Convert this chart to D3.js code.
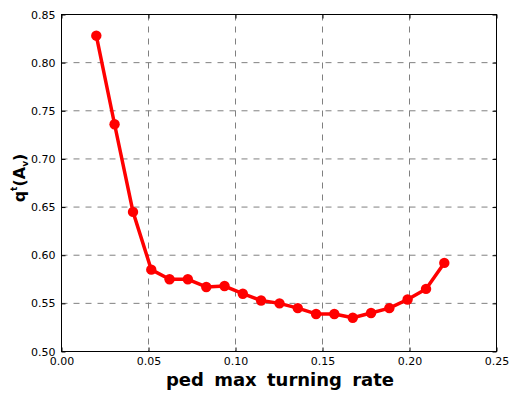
<!DOCTYPE html>
<html><head><meta charset="utf-8">
<script src="https://cdn.jsdelivr.net/npm/d3@7"></script>
<style>body{margin:0;background:#fff}svg{display:block}</style>
</head><body>
<svg id="c" width="512" height="395"></svg>
<script>
const xValues = [0.0200,0.0305,0.0411,0.0516,0.0621,0.0726,0.0832,0.0937,0.1042,0.1147,0.1253,0.1358,0.1463,0.1568,0.1674,0.1779,0.1884,0.1989,0.2095,0.2200];
const yValues = [0.828,0.736,0.645,0.585,0.575,0.575,0.567,0.568,0.560,0.553,0.550,0.545,0.539,0.539,0.535,0.540,0.545,0.554,0.565,0.592];
const xTicks = [0.00,0.05,0.10,0.15,0.20,0.25];
const yTicks = [0.50,0.55,0.60,0.65,0.70,0.75,0.80,0.85];
const xLabel = "ped max turning rate";

const svg = d3.select("#c");
const L = 61.5, R = 496.5, T = 14.5, B = 351.5;
const x = d3.scaleLinear().domain([0,0.25]).range([L,R]);
const y = d3.scaleLinear().domain([0.50,0.85]).range([B,T]);
const font = "DejaVu Sans, sans-serif";

// grid
const g = svg.append("g");
g.selectAll(".gx").data(xTicks.slice(1,-1)).enter().append("line")
  .attr("x1",d=>x(d)).attr("x2",d=>x(d)).attr("y1",T).attr("y2",B)
  .attr("stroke","#808080").attr("stroke-width",1).attr("stroke-dasharray","6,6");
g.selectAll(".gy").data(yTicks.slice(1,-1)).enter().append("line")
  .attr("y1",d=>y(d)).attr("y2",d=>y(d)).attr("x1",L).attr("x2",R)
  .attr("stroke","#808080").attr("stroke-width",1).attr("stroke-dasharray","6,6");

// axes (ticks inward)
const ax = d3.axisBottom(x).tickValues(xTicks).tickFormat(d3.format(".2f")).tickSizeInner(-4).tickSizeOuter(0).tickPadding(6);
const ay = d3.axisLeft(y).tickValues(yTicks).tickFormat(d3.format(".2f")).tickSizeInner(-4).tickSizeOuter(0).tickPadding(6);
const axT = d3.axisTop(x).tickValues(xTicks).tickFormat("").tickSizeInner(-4).tickSizeOuter(0);
const ayR = d3.axisRight(y).tickValues(yTicks).tickFormat("").tickSizeInner(-4).tickSizeOuter(0);
function style(sel){
  sel.select(".domain").remove();
  sel.selectAll("line").attr("stroke","#000");
  sel.selectAll("text").attr("font-family",font).attr("font-size","11px").attr("fill","#000");
}
svg.append("g").attr("transform",`translate(0,${B})`).call(ax).call(style);
svg.append("g").attr("transform",`translate(${L},0)`).call(ay).call(style);
svg.append("g").attr("transform",`translate(0,${T})`).call(axT).call(style);
svg.append("g").attr("transform",`translate(${R},0)`).call(ayR).call(style);

// line + markers
const data = xValues.map((v,i)=>[v,yValues[i]]);
svg.append("path").datum(data)
  .attr("d",d3.line().x(d=>x(d[0])).y(d=>y(d[1])))
  .attr("fill","none").attr("stroke","#ff0000").attr("stroke-width",3.5).attr("stroke-linejoin","round");
svg.selectAll(".pt").data(data).enter().append("circle")
  .attr("cx",d=>x(d[0])).attr("cy",d=>y(d[1])).attr("r",5.2).attr("fill","#ff0000");

// frame
svg.append("rect").attr("x",L).attr("y",T).attr("width",R-L).attr("height",B-T)
  .attr("fill","none").attr("stroke","#000").attr("stroke-width",1);

// labels
svg.append("text").attr("x",280).attr("y",386).attr("text-anchor","middle")
  .attr("font-family",font).attr("font-weight","bold").attr("font-size","18px")
  .attr("word-spacing","4px").text(xLabel);

const yl = svg.append("text").attr("transform",`translate(25,178) rotate(-90)`)
  .attr("text-anchor","middle").attr("font-family",font).attr("font-weight","bold").attr("font-size","16px");
yl.append("tspan").text("q");
yl.append("tspan").attr("font-size","9px").attr("dy","-8").text("t");
yl.append("tspan").attr("dy","8").text("(A");
yl.append("tspan").attr("font-size","9px").attr("dy","3").text("v");
yl.append("tspan").attr("dy","-3").text(")");
</script>
</body></html>
